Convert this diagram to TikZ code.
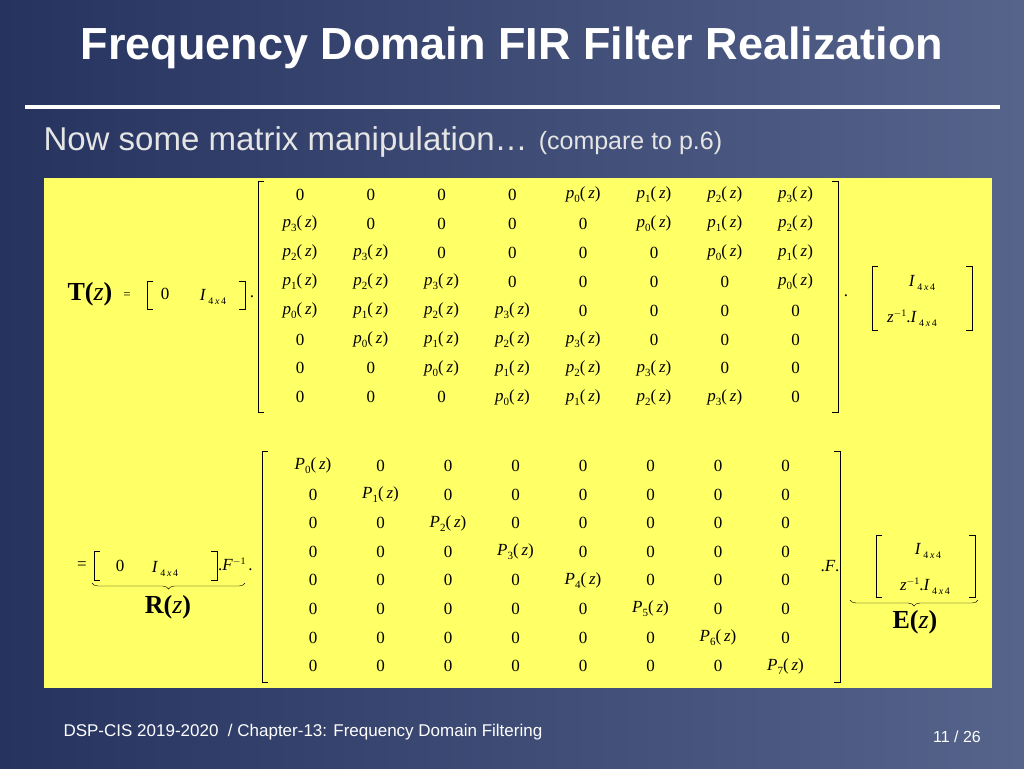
\documentclass[tikz,border=0pt]{standalone}
\usepackage{fontspec}
\setmainfont{Liberation Serif}
\setsansfont{Liberation Sans}
\usetikzlibrary{positioning,decorations.pathreplacing}
\definecolor{slidebg}{HTML}{26335F}
\definecolor{slidebgr}{HTML}{56648C}
\definecolor{panel}{HTML}{FFFF66}
\newcommand{\ent}[2]{{\itshape #1}\raisebox{-0.5ex}{\fontsize{11}{12}\selectfont #2}(\,{\itshape z})}
\newcommand{\eye}{{\itshape I}\,\raisebox{-0.45ex}{\fontsize{10}{11}\selectfont 4\,{\itshape x}\,4}}
\tikzset{
	titel/.style={text=white, font=\sffamily\bfseries\fontsize{45}{50}\selectfont},
	sub/.style={text=black!10, font=\sffamily\fontsize{33}{36}\selectfont, anchor=west},
	foot/.style={text=white, font=\sffamily\fontsize{17}{19}\selectfont},
	cell/.style={text=black, font=\fontsize{17}{19}\selectfont, inner sep=0pt},
	big/.style={text=black, font=\bfseries\fontsize{26}{28}\selectfont, inner sep=0pt},
	brk/.style={draw=black, line width=0.8pt}
}
\newcommand{\lbrk}[3]{\draw[brk] (#1+6,#2) -- (#1,#2) -- (#1,#3) -- (#1+6,#3);}
\newcommand{\rbrk}[3]{\draw[brk] (#1-6,#2) -- (#1,#2) -- (#1,#3) -- (#1-6,#3);}
\begin{document}
\begin{tikzpicture}[x=1pt,y=-1pt]
	% background
	\shade[left color=slidebg, right color=slidebgr] (0,0) rectangle (1024,768);
	\useasboundingbox (0,0) rectangle (1024,768);
	\node[titel] (title) at (512,48) {Frequency Domain FIR Filter Realization};
	\draw[white, line width=4pt] (25,107) -- (1000,107);
	\node[sub] (sub) at (40,142) {Now some matrix manipulation\dots};
	\node[sub, font=\sffamily\fontsize{25}{28}\selectfont, right=4pt of sub, yshift=-1pt] (cmp) {(compare to p.6)};
	\fill[panel] (44,178) rectangle (992,688);
	
	% upper matrix
	\foreach \i in {0,...,7}{
		\foreach \j in {0,...,7}{
			\pgfmathtruncatemacro{\k}{mod(\j-\i+8,8)}
			\pgfmathtruncatemacro{\n}{\k-4}
			\pgfmathsetmacro{\cx}{300+\j*70.8}
			\pgfmathsetmacro{\cy}{195+\i*28.9}
			\ifnum\k>3
				\node[cell] (t\i\j) at (\cx,\cy) {\ent{p}{\n}};
			\else
				\node[cell] (t\i\j) at (\cx,\cy) {0};
			\fi
		}
	}
	\lbrk{258}{181}{412}
	\rbrk{838}{181}{412}
	\node[big] (T) at (90,294) {T(\textnormal{\itshape z})};
	\node[cell, font=\fontsize{13}{14}\selectfont] (eq1) at (127,296) {=};
	\lbrk{147}{281}{309}
	\node[cell] (z1) at (165,294) {0};
	\node[cell] (i1) at (213,297) {\eye};
	\rbrk{245}{281}{309}
	\node[cell] (d1) at (252,297) {.};
	\node[cell] (d2) at (846,296) {.};
	\lbrk{872}{266}{330}
	\node[cell] (i2) at (922,283) {\eye};
	\node[cell] (i3) at (912,318) {{\itshape z}\raisebox{0.8ex}{\fontsize{10}{11}\selectfont $-$1}.\eye};
	\rbrk{972}{266}{330}
	
	% lower matrix
	\foreach \i in {0,...,7}{
		\foreach \j in {0,...,7}{
			\pgfmathsetmacro{\cx}{313+\j*67.5}
			\pgfmathsetmacro{\cy}{466+\i*28.6}
			\ifnum\i=\j
				\node[cell] (b\i\j) at (\cx,\cy) {\ent{P}{\i}};
			\else
				\node[cell] (b\i\j) at (\cx,\cy) {0};
			\fi
		}
	}
	\lbrk{262}{451}{682}
	\rbrk{840}{451}{682}
	\node[cell] (eq2) at (82,566) {=};
	\lbrk{94}{551}{580}
	\node[cell] (z2) at (120,566) {0};
	\node[cell] (i4) at (165,569) {\eye};
	\rbrk{217}{551}{580}
	\node[cell, anchor=west] (f1) at (218,564) {.{\itshape F}\raisebox{0.8ex}{\fontsize{10}{11}\selectfont $-$1}\,.};
	\draw[decorate, decoration={brace, mirror, amplitude=6pt}] (92,583) -- (245,583);
	\node[big] (R) at (168,607) {R(\textnormal{\itshape z})};
	\node[cell] (f2) at (830,566) {.{\itshape F}.};
	\lbrk{876}{535}{597}
	\node[cell] (i5) at (928,551) {\eye};
	\node[cell] (i6) at (925,586) {{\itshape z}\raisebox{0.8ex}{\fontsize{10}{11}\selectfont $-$1}.\eye};
	\rbrk{975}{535}{597}
	\draw[decorate, decoration={brace, mirror, amplitude=6pt}] (850,600) -- (978,600);
	\node[big] (E) at (915,622) {E(\textnormal{\itshape z})};
	
	% footer
	\node[foot, anchor=west] (f) at (60,732) {DSP-CIS 2019-2020~~/ Chapter-13: Frequency Domain Filtering};
	\node[foot, font=\sffamily\fontsize{16}{18}\selectfont] (pg) at (957,737) {11 / 26};
\end{tikzpicture}
\end{document}
